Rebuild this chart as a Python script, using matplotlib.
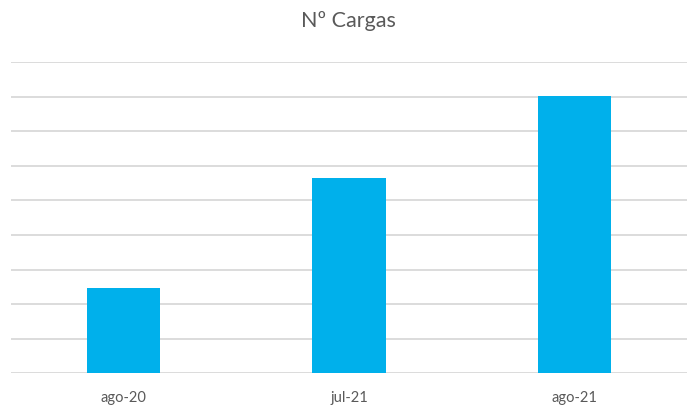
import matplotlib

matplotlib.use("Agg")
import matplotlib.pyplot as plt  # noqa: E402

# data
categories = ["ago-20", "jul-21", "ago-21"]
cargas = [2.47, 5.64, 8.01]

BAR = "#00B0EB"
GRID = "#D9D9D9"
TEXT = "#595959"

plt.rcParams["font.family"] = ["Lato", "DejaVu Sans"]

fig = plt.figure(figsize=(6.96, 4.18), dpi=100)
ax = fig.add_axes([11 / 696, 1 - 373.3 / 418, 676 / 696, (373.3 - 62) / 418])

x = range(len(categories))
ax.bar(x, cargas, width=0.324, color=BAR, zorder=3)

ax.set_xlim(-0.5, len(categories) - 0.5)
ax.set_ylim(0, 9)
ax.set_yticks(range(0, 10))
ax.yaxis.grid(True, color=GRID, linewidth=1.3, zorder=0)
ax.tick_params(axis="y", left=False, labelleft=False)
ax.set_xticks(list(x))
ax.set_xticklabels(categories, fontsize=10.5, color=TEXT)
ax.tick_params(axis="x", length=0, pad=13)
for side in ("top", "right", "left", "bottom"):
    ax.spines[side].set_visible(False)

fig.text(0.5, 1 - 26.7 / 418, "Nº Cargas", ha="center", va="baseline",
         fontsize=15.5, color=TEXT)

fig.savefig("out.png", dpi=100)
